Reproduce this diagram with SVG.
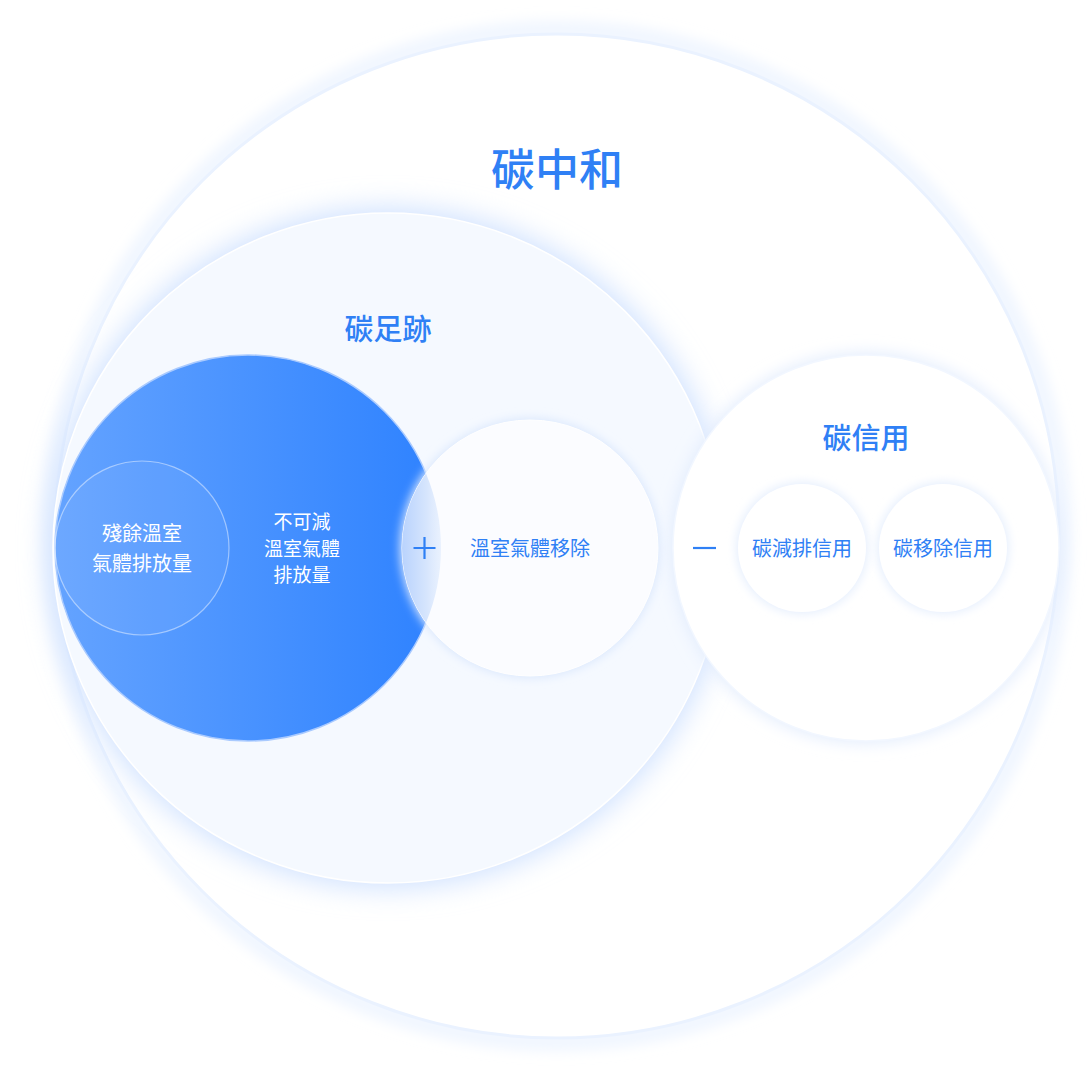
<svg xmlns="http://www.w3.org/2000/svg" width="1089" height="1068" viewBox="0 0 1089 1068">
<defs>
<style>
.t{font-family:"Noto Sans CJK TC","Noto Sans CJK SC",sans-serif;text-anchor:middle;}
.blue{fill:#2f80f5;}
.white{fill:#ffffff;}
.sym{stroke:#2f80f5;stroke-width:2.2;fill:none;}
</style>
<filter id="glowBig" x="-30%" y="-30%" width="160%" height="160%"><feGaussianBlur stdDeviation="14"/></filter>
<filter id="glowSoft" x="-30%" y="-30%" width="160%" height="160%"><feGaussianBlur stdDeviation="8"/></filter>
<filter id="glowSmall" x="-30%" y="-30%" width="160%" height="160%"><feGaussianBlur stdDeviation="5"/></filter>
<linearGradient id="blueGrad" x1="0" y1="0" x2="1" y2="0">
<stop offset="0" stop-color="#64a3ff"/>
<stop offset="1" stop-color="#2e82ff"/>
</linearGradient>
<linearGradient id="lensGrad" gradientUnits="userSpaceOnUse" x1="402" y1="0" x2="472" y2="0">
<stop offset="0" stop-color="#b9d3fd"/>
<stop offset="0.35" stop-color="#d6e5fd"/>
<stop offset="1" stop-color="#fafcff" stop-opacity="0"/>
</linearGradient>
<clipPath id="blueClip"><circle cx="248" cy="548" r="193"/></clipPath>
</defs>

<g id="carbon-neutral">
<circle cx="557" cy="536" r="506" fill="none" stroke="#e3eeff" stroke-width="10" filter="url(#glowSoft)"/>
<circle cx="557" cy="536" r="502" fill="#ffffff" stroke="#eaf2ff" stroke-width="3"/>
<text class="t blue" x="557" y="186" font-size="44" font-weight="500">碳中和</text>
</g>

<g id="carbon-footprint">
<circle cx="388" cy="548" r="340" fill="#cfe1ff" filter="url(#glowBig)"/>
<circle cx="388" cy="548" r="335" fill="#f5f9ff" stroke="#ffffff" stroke-width="1.5"/>
<text class="t blue" x="388" y="340" font-size="29" font-weight="500">碳足跡</text>
</g>

<g id="irreducible-emissions">
<circle cx="248" cy="548" r="193" fill="url(#blueGrad)" stroke="#a9caff" stroke-width="1.5"/>
<text class="t white" x="302" y="529" font-size="19">不可減</text>
<text class="t white" x="302" y="556" font-size="19">溫室氣體</text>
<text class="t white" x="302" y="582" font-size="19">排放量</text>
</g>

<g id="residual-emissions">
<circle cx="142" cy="548" r="87" fill="#ffffff" fill-opacity="0.06" stroke="#ffffff" stroke-opacity="0.45" stroke-width="1.2"/>
<text class="t white" x="142" y="541" font-size="20">殘餘溫室</text>
<text class="t white" x="142" y="571" font-size="20">氣體排放量</text>
</g>

<g id="ghg-removal">
<circle cx="530" cy="548" r="130" fill="#dbe8fd" filter="url(#glowSmall)"/>
<circle cx="530" cy="548" r="128" fill="#fbfcff" stroke="#ffffff" stroke-width="1"/>
<circle cx="530" cy="548" r="128" fill="url(#lensGrad)" clip-path="url(#blueClip)"/>
<text class="t blue" x="530" y="556" font-size="20">溫室氣體移除</text>
</g>

<g id="carbon-credits">
<circle cx="866" cy="548" r="195" fill="#e2ecfd" filter="url(#glowSoft)"/>
<circle cx="866" cy="548" r="193" fill="#ffffff" stroke="#f2f7ff" stroke-width="1.5"/>
<text class="t blue" x="866" y="449" font-size="29" font-weight="500">碳信用</text>
</g>

<g id="reduction-credits">
<circle cx="802" cy="548" r="66" fill="#e6effd" filter="url(#glowSmall)"/>
<circle cx="802" cy="548" r="64" fill="#ffffff"/>
<text class="t blue" x="802" y="556" font-size="20">碳減排信用</text>
</g>

<g id="removal-credits">
<circle cx="943" cy="548" r="66" fill="#e6effd" filter="url(#glowSmall)"/>
<circle cx="943" cy="548" r="64" fill="#ffffff"/>
<text class="t blue" x="943" y="556" font-size="20">碳移除信用</text>
</g>

<g id="connectors">
<path class="sym" d="M413.5 548 H435.5 M424.5 537 V559"/>
<path class="sym" d="M693 548 H716"/>
</g>
</svg>
